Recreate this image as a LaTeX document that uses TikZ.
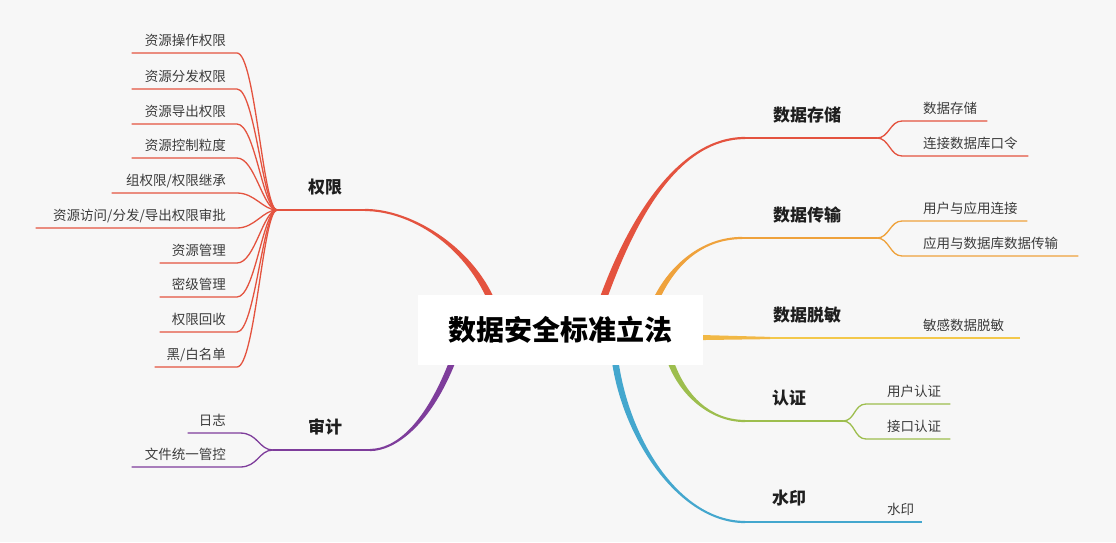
\documentclass[tikz,border=0pt]{standalone}
\usepackage{fontspec}
\setmainfont{Noto Sans CJK SC}
\usetikzlibrary{calc}
\definecolor{cred}{HTML}{E4533F}
\definecolor{corange}{HTML}{EFA23C}
\definecolor{cyellow}{HTML}{F3C84B}
\definecolor{cyelloworange}{HTML}{F1B845}
\definecolor{cgreen}{HTML}{9DBE4E}
\definecolor{cblue}{HTML}{44A7CE}
\definecolor{cpurple}{HTML}{7E3D9B}
\definecolor{bgcol}{HTML}{F7F7F7}
\definecolor{leaftxt}{HTML}{3C3C3C}
\tikzset{
 leaftext/.style={font=\fontsize{13.5}{16}\selectfont, text=leaftxt, inner sep=0pt},
 branchtext/.style={font=\bfseries\fontsize{17}{20}\selectfont, text=black!88, inner sep=0pt},
 roottext/.style={fill=white, minimum width=285pt, minimum height=70pt, inner sep=0pt, font=\bfseries\fontsize{28}{32}\selectfont, text=black},
 leafline/.style={line width=1.3pt, line cap=round},
 stemline/.style={line width=2.2pt},
}
% tapered branch: colour, E, C1, C2, S, x offset (top side), x offset (bottom side)
\newcommand\mmtaper[7]{%
 \fill[#1] ($(#2)+(0,-1.1)$) .. controls ($(#3)+(0,-1.1)$) and ($(#4)+(#6,0)$) .. ($(#5)+(#6,0)$)
   -- ($(#5)+(#7,0)$) .. controls ($(#4)+(#7,0)$) and ($(#3)+(0,1.1)$) .. ($(#2)+(0,1.1)$) -- cycle;}
% leaf connectors: hub, name, near x, y, far x, colour
\newcommand\leafL[6]{%
 \coordinate (#2a) at (#3,#4); \coordinate (#2b) at (#5,#4);
 \draw[leafline,#6] (#1) .. controls +(-14,0) and +(18,0) .. (#2a) -- (#2b);}
\newcommand\leafR[6]{%
 \coordinate (#2a) at (#3,#4); \coordinate (#2b) at (#5,#4);
 \draw[leafline,#6] (#1) .. controls +(12,0) and +(-12,0) .. (#2a) -- (#2b);}
\begin{document}
\begin{tikzpicture}[x=1pt,y=-1pt]
\fill[bgcol] (0,0) rectangle (1116,542);
\useasboundingbox (0,0) rectangle (1116,542);

% ---------- 权限 ----------
\coordinate (qxS) at (492,302);
\coordinate (qxC2) at (468,245);
\coordinate (qxC1) at (410,210);
\coordinate (qxE) at (365,210);
\coordinate (qxH) at (277,210);
\mmtaper{cred}{qxE}{qxC1}{qxC2}{qxS}{3.8}{-3.8}
\draw[stemline,cred] (qxE) -- (qxH);
\node[branchtext] (qx) at (325,187) {权限};
\leafL{qxH}{qxl1}{237}{53}{132}{cred}
\leafL{qxH}{qxl2}{237}{89}{132}{cred}
\leafL{qxH}{qxl3}{237}{124}{132}{cred}
\leafL{qxH}{qxl4}{237}{158}{132}{cred}
\leafL{qxH}{qxl5}{237}{193}{112}{cred}
\leafL{qxH}{qxl6}{237}{228}{36}{cred}
\leafL{qxH}{qxl7}{237}{263}{160}{cred}
\leafL{qxH}{qxl8}{237}{297}{160}{cred}
\leafL{qxH}{qxl9}{237}{332}{160}{cred}
\leafL{qxH}{qxl10}{237}{367}{155}{cred}
\node[leaftext,anchor=base east] (qxt1) at (226,45) {资源操作权限};
\node[leaftext,anchor=base east] (qxt2) at (226,81) {资源分发权限};
\node[leaftext,anchor=base east] (qxt3) at (226,116) {资源导出权限};
\node[leaftext,anchor=base east] (qxt4) at (226,150) {资源控制粒度};
\node[leaftext,anchor=base east] (qxt5) at (226,185) {组权限/权限继承};
\node[leaftext,anchor=base east] (qxt6) at (226,220) {资源访问/分发/导出权限审批};
\node[leaftext,anchor=base east] (qxt7) at (226,255) {资源管理};
\node[leaftext,anchor=base east] (qxt8) at (226,289) {密级管理};
\node[leaftext,anchor=base east] (qxt9) at (226,324) {权限回收};
\node[leaftext,anchor=base east] (qxt10) at (226,359) {黑/白名单};

% ---------- 审计 ----------
\coordinate (sjS) at (453,360);
\coordinate (sjC1) at (428,425);
\coordinate (sjC2) at (395,450);
\coordinate (sjE) at (370,450);
\coordinate (sjH) at (273,450);
\mmtaper{cpurple}{sjE}{sjC2}{sjC1}{sjS}{-3.3}{3.3}
\draw[stemline,cpurple] (sjE) -- (sjH);
\node[branchtext] (sj) at (325,427) {审计};
\leafL{sjH}{sjl1}{240}{433}{188}{cpurple}
\leafL{sjH}{sjl2}{240}{467}{132}{cpurple}
\node[leaftext,anchor=base east] (sjt1) at (226,425) {日志};
\node[leaftext,anchor=base east] (sjt2) at (226,459) {文件统一管控};

% ---------- 数据存储 ----------
\coordinate (ccS) at (602,302);
\coordinate (ccC1) at (633,215);
\coordinate (ccC2) at (680,138);
\coordinate (ccE) at (745,138);
\coordinate (ccH) at (877,138);
\mmtaper{cred}{ccE}{ccC2}{ccC1}{ccS}{-3.8}{3.8}
\draw[stemline,cred] (ccE) -- (ccH);
\node[branchtext] (cc) at (807,115) {数据存储};
\leafR{ccH}{ccl1}{902}{121}{987}{cred}
\leafR{ccH}{ccl2}{902}{156}{1028}{cred}
\node[leaftext,anchor=base west] (cct1) at (923,113) {数据存储};
\node[leaftext,anchor=base west] (cct2) at (923,148) {连接数据库口令};

% ---------- 数据传输 ----------
\coordinate (csS) at (655,302);
\coordinate (csC1) at (670,268);
\coordinate (csC2) at (700,238);
\coordinate (csE) at (742,238);
\coordinate (csH) at (877,238);
\mmtaper{corange}{csE}{csC2}{csC1}{csS}{-3.3}{3.3}
\draw[stemline,corange] (csE) -- (csH);
\node[branchtext] (cs) at (807,215) {数据传输};
\leafR{csH}{csl1}{902}{221}{1027}{corange}
\leafR{csH}{csl2}{902}{256}{1078}{corange}
\node[leaftext,anchor=base west] (cst1) at (923,213) {用户与应用连接};
\node[leaftext,anchor=base west] (cst2) at (923,248) {应用与数据库数据传输};

% ---------- 数据脱敏 ----------
\coordinate (tmS) at (698,337.5);
\coordinate (tmE) at (770,338);
\coordinate (tmEnd) at (1020,338);
\fill[cyelloworange] ($(tmS)+(0,-2.6)$) -- ($(tmE)+(0,-1.1)$) -- ($(tmE)+(0,1.1)$) -- ($(tmS)+(0,2.6)$) -- cycle;
\draw[stemline,cyellow] (tmE) -- (tmEnd);
\node[branchtext] (tm) at (807,315) {数据脱敏};
\node[leaftext,anchor=base west] (tmt1) at (923,330) {敏感数据脱敏};

% ---------- 认证 ----------
\coordinate (rzS) at (670,360);
\coordinate (rzC1) at (682,395);
\coordinate (rzC2) at (710,421);
\coordinate (rzE) at (745,421);
\coordinate (rzH) at (843,421);
\mmtaper{cgreen}{rzE}{rzC2}{rzC1}{rzS}{3.3}{-3.3}
\draw[stemline,cgreen] (rzE) -- (rzH);
\node[branchtext] (rz) at (789,398) {认证};
\leafR{rzH}{rzl1}{866}{404}{950}{cgreen}
\leafR{rzH}{rzl2}{866}{439}{950}{cgreen}
\node[leaftext,anchor=base west] (rzt1) at (887,396) {用户认证};
\node[leaftext,anchor=base west] (rzt2) at (887,431) {接口认证};

% ---------- 水印 ----------
\coordinate (syS) at (615,360);
\coordinate (syC1) at (626,440);
\coordinate (syC2) at (680,522);
\coordinate (syE) at (745,522);
\coordinate (syEnd) at (922,522);
\mmtaper{cblue}{syE}{syC2}{syC1}{syS}{3.3}{-3.3}
\draw[stemline,cblue] (syE) -- (syEnd);
\node[branchtext] (sy) at (789,498) {水印};
\node[leaftext,anchor=base west] (syt1) at (887,514) {水印};

% ---------- root ----------
\node[roottext] (root) at (560.5,330) {数据安全标准立法};
\end{tikzpicture}
\end{document}
